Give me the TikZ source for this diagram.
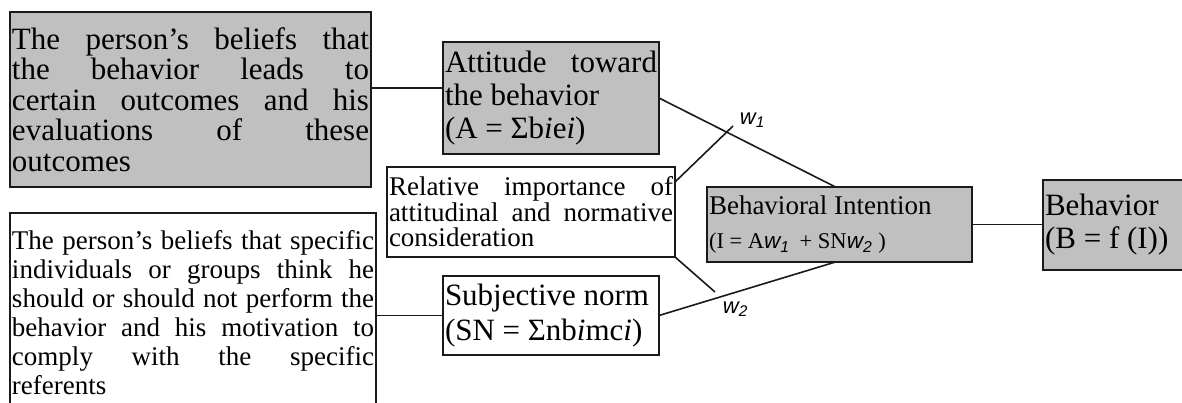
\documentclass[tikz,border=0pt]{standalone}
\usepackage{fontspec}
\setmainfont{Liberation Serif}
\newfontfamily\wfont{Liberation Sans}
\usetikzlibrary{positioning, calc}
\definecolor{cshade}{HTML}{C0C0C0}
\definecolor{cline}{HTML}{1A1A1A}
\newcommand{\txt}[2]{\fontsize{#1}{#2}\selectfont\tolerance=10000\hyphenpenalty=10000}
\newcommand{\wsub}[1]{{\wfont\itshape w\textsubscript{#1}}}
\tikzset{
  every picture/.style={line width=1.8pt},
  card/.style={draw=cline, fill=white, anchor=north west, inner sep=2pt, outer sep=0pt, align=justify, text width=#1},
  shaded/.style={card=#1, fill=cshade},
  link/.style={draw=cline, line width=1.6pt},
  weight/.style={font=\wfont\itshape\fontsize{22}{22}\selectfont, inner sep=0pt, anchor=west},
}

\begin{document}
\begin{tikzpicture}[x=1pt, y=-1pt]
  \useasboundingbox (0,0) rectangle (1182,403);
  \fill[white] (0,0) rectangle (1182,403);
  \clip (0,0) rectangle (1182,403);
  % beliefs and attitude
  \node[shaded=357pt, minimum height=175pt, font={\txt{31}{30.5}}] (belA) at (10,12)
    {The person’s beliefs that\linebreak the behavior leads to\linebreak certain outcomes and his\linebreak evaluations of these\linebreak outcomes\par\vspace{18pt}};
  \node[shaded=212pt, minimum height=112pt, font={\txt{31}{33}}] (att) at (443,42)
    {Attitude toward\linebreak the behavior\par (A = Σb\textit{i}e\textit{i})};
  % weights
  \node[card=284pt, minimum height=90pt, font={\txt{27}{25.5}}] (rel) at (387,167)
    {Relative importance of\linebreak attitudinal and normative\linebreak consideration\par\vspace{8pt}};
  % normative beliefs and subjective norm
  \node[card=362pt, minimum height=200pt, font={\txt{27}{29}}] (belSN) at (10,213)
    {The person’s beliefs that specific\linebreak individuals or groups think he\linebreak should or should not perform the\linebreak behavior and his motivation to\linebreak comply with the specific\linebreak referents};
  \node[card=212pt, minimum height=79pt, font={\txt{31}{35}}] (sn) at (443,276)
    {Subjective norm\par (SN = Σnb\textit{i}mc\textit{i})};
  % intention and behavior
  \node[shaded=261pt, minimum height=75pt, font={\txt{27}{34}}] (bi) at (707,187)
    {Behavioral Intention\par {\txt{22.5}{34}(I = A\wsub{1}\hspace{10pt}+ SN\wsub{2}\hspace{6pt})\par}};
  \node[shaded=156pt, minimum height=90pt, font={\txt{31}{33}}] (beh) at (1043,180)
    {Behavior\par (B = f (I))\par\vspace{-12pt}};
  \coordinate (wonetip) at (733,126);
  \coordinate (wtwotip) at (715,292);
  \node[weight] (wone) at (739,120) {w\textsubscript{1}};
  \node[weight] (wtwo) at (722,309) {w\textsubscript{2}};
  % connectors
  \coordinate (attin) at ([yshift=10pt]att.west);
  \draw[link] (attin) -- (attin -| belA.east);
  \draw[link] (att.east) -- ([xshift=-4pt]bi.north);
  \draw[link] ([yshift=30pt]rel.east) -- (wonetip);
  \draw[link] (rel.south east) -- (wtwotip);
  \draw[link] (sn.west) -- (sn.west -| belSN.east);
  \draw[link] (sn.east) -- ([xshift=-4pt]bi.south);
  \draw[link] (bi.east) -- (bi.east -| beh.west);
\end{tikzpicture}
\end{document}
